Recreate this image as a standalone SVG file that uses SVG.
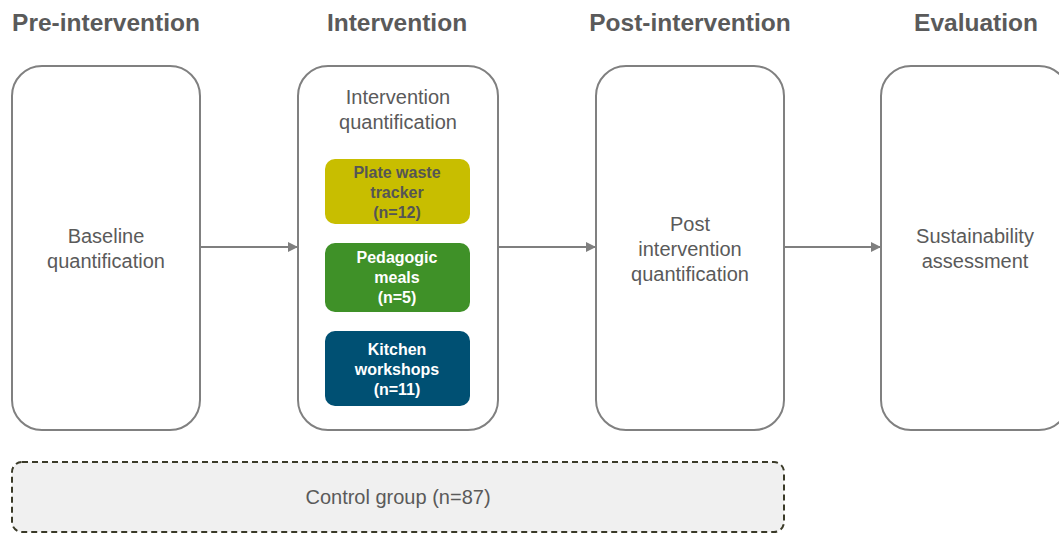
<svg xmlns="http://www.w3.org/2000/svg" width="1059" height="534" viewBox="0 0 1059 534">
<style>
.h{font-family:"Liberation Sans",Arial,sans-serif;font-weight:bold;font-size:24.5px;fill:#5a5a5a;text-anchor:middle}
.t{font-family:"Liberation Sans",Arial,sans-serif;font-size:20px;fill:#5a5a5a;text-anchor:middle}
.s{font-family:"Liberation Sans",Arial,sans-serif;font-weight:bold;font-size:16px;fill:#fff;text-anchor:middle}
.box{fill:#fff;stroke:#808080;stroke-width:2}
.conn{stroke:#7f7f7f;stroke-width:2;fill:none}
</style>
<defs>
<marker id="ah" markerWidth="10" markerHeight="10" refX="9" refY="5" orient="auto" markerUnits="userSpaceOnUse">
<path d="M0,0 L10,5 L0,10 Z" fill="#7f7f7f"/>
</marker>
</defs>
<g id="headers">
<text class="h" x="106" y="31">Pre-intervention</text>
<text class="h" x="397" y="31">Intervention</text>
<text class="h" x="690" y="31">Post-intervention</text>
<text class="h" x="976" y="31">Evaluation</text>
</g>
<g id="pre">
<rect class="box" x="12" y="66" width="188" height="364" rx="30"/>
<text class="t" x="106" y="243">Baseline</text>
<text class="t" x="106" y="268">quantification</text>
</g>
<g id="intervention">
<rect class="box" x="298" y="66" width="200" height="364" rx="30"/>
<text class="t" x="398" y="104">Intervention</text>
<text class="t" x="398" y="129">quantification</text>
</g>
<g id="plate">
<rect x="325" y="159" width="145" height="65" rx="10" fill="#c8be00"/>
<text class="s" x="397" y="178" style="fill:#555">Plate waste</text>
<text class="s" x="397" y="198" style="fill:#555">tracker</text>
<text class="s" x="397" y="218" style="fill:#555">(n=12)</text>
</g>
<g id="pedagogic">
<rect x="325" y="243" width="145" height="69" rx="10" fill="#3f9128"/>
<text class="s" x="397" y="263">Pedagogic</text>
<text class="s" x="397" y="283">meals</text>
<text class="s" x="397" y="303">(n=5)</text>
</g>
<g id="kitchen">
<rect x="325" y="331" width="145" height="75" rx="10" fill="#005073"/>
<text class="s" x="397" y="355">Kitchen</text>
<text class="s" x="397" y="375">workshops</text>
<text class="s" x="397" y="395">(n=11)</text>
</g>
<g id="post">
<rect class="box" x="596" y="66" width="188" height="364" rx="30"/>
<text class="t" x="690" y="231">Post</text>
<text class="t" x="690" y="256">intervention</text>
<text class="t" x="690" y="281">quantification</text>
</g>
<g id="evaluation">
<rect class="box" x="881" y="66" width="188" height="364" rx="30"/>
<text class="t" x="975" y="243">Sustainability</text>
<text class="t" x="975" y="268">assessment</text>
</g>
<g id="control">
<rect x="12" y="462" width="772" height="70" rx="10" fill="#f0f0f0" stroke="#3a3a28" stroke-width="2" stroke-dasharray="6,4"/>
<text class="t" x="398" y="504">Control group (n=87)</text>
</g>
<g id="connectors">
<line class="conn" x1="200" y1="247" x2="297" y2="247" marker-end="url(#ah)"/>
<line class="conn" x1="498" y1="247" x2="595" y2="247" marker-end="url(#ah)"/>
<line class="conn" x1="784" y1="247" x2="880" y2="247" marker-end="url(#ah)"/>
</g>
</svg>
